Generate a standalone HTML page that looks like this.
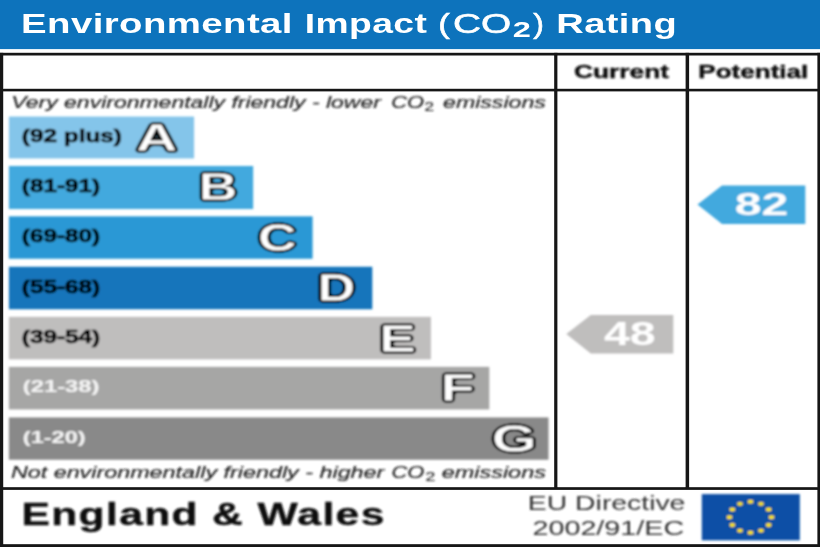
<!DOCTYPE html>
<html><head><meta charset="utf-8"><title>Environmental Impact (CO2) Rating</title>
<style>
html,body{margin:0;padding:0;background:#fff;}
body{width:820px;height:547px;overflow:hidden;}
svg{display:block;}
text{font-family:"Liberation Sans",Arial,sans-serif;}
.b{font-weight:bold;}
.i{font-style:italic;}
.k{fill:#111;stroke:#111;stroke-width:.4;}
.it{fill:#1c1c1c;stroke:#1c1c1c;stroke-width:.15;}
.lb{fill:#000;stroke:#000;stroke-width:.7;}
.lw{fill:#f4f4f4;stroke:#f4f4f4;stroke-width:.15;}
.w{fill:#fff;}
.wr{fill:#fff;stroke:#fff;stroke-width:.6;}
.w0{fill:#fff;}
.g{fill:#303030;}
.L{font-weight:bold;font-size:38.0px;fill:#fff;stroke:#000;stroke-width:.8;stroke-linejoin:round;filter:url(#ol);}
.M{font-weight:bold;font-size:38.0px;fill:#fff;stroke:#000;stroke-width:.8;stroke-linejoin:round;}
</style></head><body>
<svg width="820" height="547" viewBox="0 0 820 547">
<defs><filter id="ol" x="-20%" y="-20%" width="140%" height="140%"><feGaussianBlur in="SourceAlpha" stdDeviation="1.4" result="b"/><feComponentTransfer in="b" result="d"><feFuncA type="linear" slope="10" intercept="-1.2"/></feComponentTransfer><feFlood flood-color="#000"/><feComposite in2="d" operator="in" result="o"/><feMerge><feMergeNode in="o"/><feMergeNode in="SourceGraphic"/></feMerge></filter><filter id="b2" filterUnits="userSpaceOnUse" x="-20" y="-20" width="860" height="587"><feGaussianBlur stdDeviation="0.55"/></filter><filter id="b3" filterUnits="userSpaceOnUse" x="-20" y="-20" width="860" height="587"><feGaussianBlur stdDeviation="0.75"/></filter><filter id="bl" filterUnits="userSpaceOnUse" x="-20" y="-20" width="860" height="587"><feGaussianBlur stdDeviation="0.9"/></filter></defs>
<rect x="0" y="0" width="820" height="547" fill="#fff"/>
<g filter="url(#b3)">
<rect x="-20" y="-20" width="860" height="69.1" fill="#0773bc"/>
<text class="b w" transform="translate(21.03,33.0) scale(1.381,1)" font-size="27.8" letter-spacing="0.3">Environmental</text>
<text class="b w" transform="translate(304.71,33.0) scale(1.341,1)" font-size="27.8" letter-spacing="0.3">Impact</text>
<text class=" wr" transform="translate(438.25,33.2) scale(1.262,1)" font-size="27.5">(</text>
<text class=" wr" transform="translate(452.93,33.0) scale(1.396,1)" font-size="27.8">CO</text>
<text class="b w0" transform="translate(512.77,37.1) scale(1.430,1)" font-size="22.8">2</text>
<text class=" wr" transform="translate(533.31,33.2) scale(1.166,1)" font-size="27.5">)</text>
<text class="b w" transform="translate(556.25,33.0) scale(1.371,1)" font-size="27.8" letter-spacing="0.3">Rating</text>
</g>
<!-- frame -->
<g fill="#141414" filter="url(#b2)">
<rect x="-20" y="52.8" width="860" height="2.7"/>
<rect x="-20" y="88.8" width="860" height="2.6"/>
<rect x="-20" y="487.2" width="860" height="2.7"/>
<rect x="-20" y="544.2" width="860" height="20"/>
<rect x="-20" y="52.8" width="23.2" height="520"/>
<rect x="817.4" y="52.8" width="20" height="520"/>
<rect x="554.2" y="52.8" width="3.2" height="436"/>
<rect x="685.6" y="52.8" width="3.5" height="436"/>
</g>
<g filter="url(#bl)">
<text class="b k" transform="translate(573.92,78.2) scale(1.463,1)" font-size="18">Current</text>
<text class="b k" transform="translate(698.36,78.2) scale(1.447,1)" font-size="18">Potential</text>
<text class="i it" transform="translate(11.31,108) scale(1.437,1)" font-size="16">Very environmentally friendly - lower</text>
<text class="i it" transform="translate(391.29,108) scale(1.367,1)" font-size="16">CO</text>
<text class=" it" transform="translate(424.44,111.2) scale(1.370,1)" font-size="12.5">2</text>
<text class="i it" transform="translate(443.02,108) scale(1.447,1)" font-size="16">emissions</text>
<text class="i it" transform="translate(10.88,478.1) scale(1.459,1)" font-size="16">Not environmentally friendly - higher</text>
<text class="i it" transform="translate(391.39,478.1) scale(1.367,1)" font-size="16">CO</text>
<text class=" it" transform="translate(425.42,481.3) scale(1.405,1)" font-size="12.5">2</text>
<text class="i it" transform="translate(441.71,478.1) scale(1.466,1)" font-size="16">emissions</text>
<rect x="8.9" y="116.55" width="185.2" height="41.90" fill="#84c5ea"/>
<text class="b lb" transform="translate(21.79,142.4) scale(1.354,1)" font-size="18">(92 plus)</text>
<text class="L" transform="translate(135.83,150.8) scale(1.531,1)">A</text>
<rect x="8.9" y="165.95" width="244.3" height="43.10" fill="#43a9de"/>
<text class="b lb" transform="translate(21.79,191.8) scale(1.350,1)" font-size="18">(81-91)</text>
<text class="L" transform="translate(198.78,200.2) scale(1.410,1)">B</text>
<rect x="8.9" y="216.35" width="303.7" height="42.40" fill="#2a98d5"/>
<text class="b lb" transform="translate(21.79,242.2) scale(1.350,1)" font-size="18">(69-80)</text>
<text class="L" transform="translate(258.07,251.2) scale(1.418,1.03)">C</text>
<rect x="8.9" y="266.75" width="363.4" height="42.50" fill="#1274bb"/>
<text class="b lb" transform="translate(21.79,292.6) scale(1.350,1)" font-size="18">(55-68)</text>
<text class="L" transform="translate(317.61,301.0) scale(1.377,1)">D</text>
<rect x="8.9" y="316.85" width="422.0" height="42.50" fill="#bfbebd"/>
<text class="b lb" transform="translate(21.79,342.7) scale(1.350,1)" font-size="18">(39-54)</text>
<text class="L" transform="translate(379.16,351.7) scale(1.442,1.03)">E</text>
<rect x="8.9" y="366.85" width="480.4" height="42.60" fill="#a6a6a5"/>
<text class="b lw" transform="translate(22.82,392.2) scale(1.431,1)" font-size="16.6">(21-38)</text>
<text class="L" transform="translate(440.64,401.1) scale(1.466,1)">F</text>
<rect x="8.9" y="417.45" width="539.6" height="42.30" fill="#898989"/>
<text class="b lw" transform="translate(22.83,442.8) scale(1.417,1)" font-size="16.6">(1-20)</text>
<text class="L" transform="translate(491.79,452.1) scale(1.527,1.02)">G</text>
<!-- arrows -->
<polygon points="697.5,204.4 722,185.4 805.3,185.4 805.3,224.0 722,224.0" fill="#43a9de"/>
<text class="b w" transform="translate(734.77,214.9) scale(1.527,1)" font-size="31.6">82</text>
<polygon points="566.3,334 590.8,315 673.3,315 673.3,353.4 590.8,353.4" fill="#bfbebd"/>
<text class="b w" transform="translate(603.90,345.2) scale(1.436,1)" font-size="32.4">48</text>
<!-- footer -->
<text class="b k" transform="translate(21.45,525.0) scale(1.361,1)" font-size="31.3" letter-spacing="1.0">England &amp; Wales</text>
<text class=" g" transform="translate(527.87,510.2) scale(1.351,1)" font-size="21">EU Directive</text>
<text class=" g" transform="translate(532.45,534.8) scale(1.369,1)" font-size="21">2002/91/EC</text>
<rect x="701.8" y="494.1" width="98" height="46.2" fill="#084fa6"/>
<g fill="#ffe600">
<ellipse cx="750.5" cy="501.7" rx="2.8" ry="1.9"/>
<ellipse cx="761.0" cy="503.8" rx="2.8" ry="1.9"/>
<ellipse cx="768.7" cy="509.5" rx="2.8" ry="1.9"/>
<ellipse cx="771.5" cy="517.2" rx="2.8" ry="1.9"/>
<ellipse cx="768.7" cy="525.0" rx="2.8" ry="1.9"/>
<ellipse cx="761.0" cy="530.6" rx="2.8" ry="1.9"/>
<ellipse cx="750.5" cy="532.7" rx="2.8" ry="1.9"/>
<ellipse cx="740.0" cy="530.6" rx="2.8" ry="1.9"/>
<ellipse cx="732.3" cy="525.0" rx="2.8" ry="1.9"/>
<ellipse cx="729.5" cy="517.2" rx="2.8" ry="1.9"/>
<ellipse cx="732.3" cy="509.5" rx="2.8" ry="1.9"/>
<ellipse cx="740.0" cy="503.8" rx="2.8" ry="1.9"/>
</g>
</g>
</svg>
</body></html>
